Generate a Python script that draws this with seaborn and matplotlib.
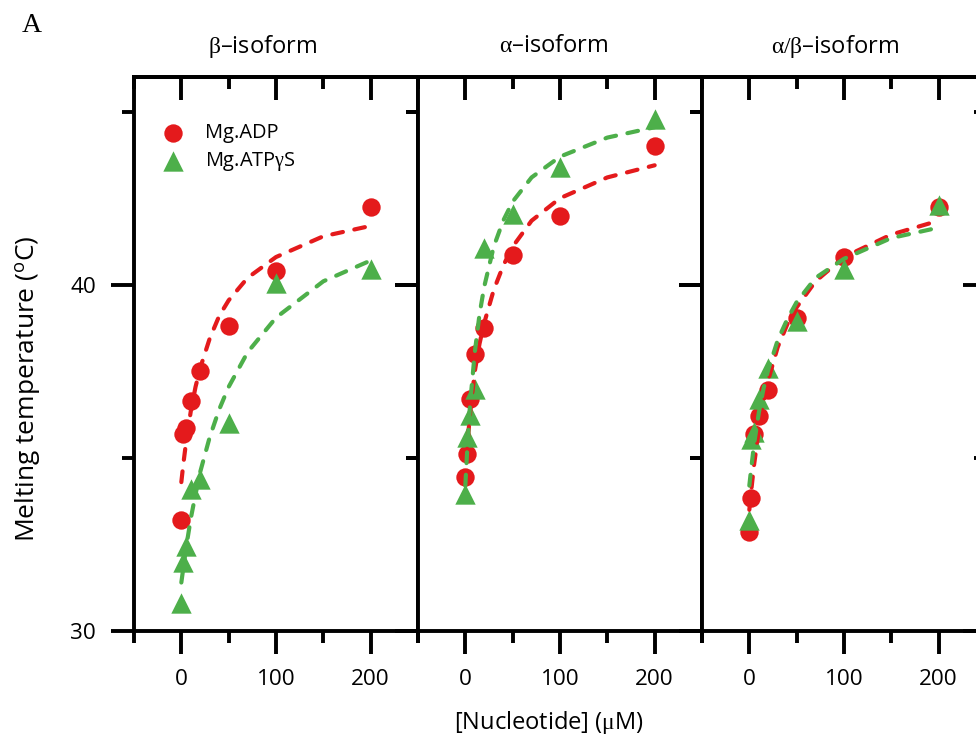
import matplotlib
matplotlib.use("Agg")
import matplotlib.pyplot as plt
from matplotlib.ticker import FixedLocator, NullFormatter
import seaborn as sns
import pandas as pd

# ---------------- data ----------------
panels = ["β", "α", "α/β"]
conc = [0, 2, 5, 10, 20, 50, 100, 200]
beta_adp = [33.2, 35.7, 35.85, 36.65, 37.5, 38.8, 40.4, 42.25]
beta_atp = [30.8, 32.0, 32.45, 34.1, 34.4, 36.0, 40.05, 40.45]
alpha_adp = [34.45, 35.1, 36.7, 38.0, 38.75, 40.85, 42.0, 44.0]
alpha_atp = [33.95, 35.6, 36.25, 37.0, 41.05, 42.05, 43.4, 44.8]
ab_adp = [32.85, 33.85, 35.7, 36.2, 36.95, 39.05, 40.8, 42.25]
ab_atp = [33.2, 35.55, 35.75, 36.7, 37.6, 38.95, 40.45, 42.3]

curve_x = [0, 2, 5, 10, 15, 20, 30, 40, 50, 70, 100, 150, 200]
beta_adp_fit = [34.3, 34.8, 35.45, 36.35, 37.05, 37.6, 38.45, 39.1, 39.55, 40.2, 40.8, 41.4, 41.7]
beta_atp_fit = [31.4, 31.8, 32.4, 33.25, 33.95, 34.6, 35.6, 36.4, 37.05, 38.05, 39.05, 40.1, 40.7]
alpha_adp_fit = [34.3, 35.3, 36.3, 37.5, 38.3, 38.9, 39.85, 40.55, 41.1, 41.85, 42.5, 43.1, 43.45]
alpha_atp_fit = [34.2, 35.25, 36.55, 38.05, 39.15, 39.95, 41.1, 41.85, 42.4, 43.1, 43.7, 44.25, 44.55]
ab_adp_fit = [33.5, 34.05, 34.8, 35.8, 36.6, 37.25, 38.2, 38.85, 39.35, 40.1, 40.8, 41.45, 41.85]
ab_atp_fit = [34.2, 34.7, 35.4, 36.3, 37.0, 37.55, 38.4, 39.0, 39.5, 40.2, 40.75, 41.35, 41.65]

titles = ["$\\mathrm{β}$–isoform", "$\\mathrm{α}$–isoform", "$\\mathrm{α/β}$–isoform"]
series_labels = ["Mg.ADP", "Mg.ATP$\\mathrm{γ}$S"]
x_ticks = [0, 100, 200]
x_minor = [-50, 50, 150, 250]
y_ticks = [30, 40]
y_minor = [35, 45]

# ---------------- style ----------------
sns.set_style("ticks")
plt.rcParams["font.family"] = ["Open Sans", "DejaVu Sans"]
plt.rcParams["mathtext.fontset"] = "custom"
plt.rcParams["mathtext.rm"] = "Liberation Serif"
plt.rcParams["mathtext.it"] = "Liberation Serif:italic"
plt.rcParams["mathtext.sf"] = "Open Sans"
for k in ["text.color", "axes.labelcolor", "xtick.color", "ytick.color",
          "axes.edgecolor"]:
    plt.rcParams[k] = "black"

RED = "#E41A1C"
GREEN = "#4DAF4A"
LW = 2.8
MAJ, MIN = 16.5, 8.5
DASH = dict(linewidth=3.0, linestyle=(0, (2.6, 2.8)), dash_capstyle="round")

fig = plt.figure(figsize=(9.76, 7.47), dpi=100)
W, H = 976.0, 747.0
lefts = [134, 418, 702]

pts = [(beta_adp, beta_atp), (alpha_adp, alpha_atp), (ab_adp, ab_atp)]
fits = [(beta_adp_fit, beta_atp_fit), (alpha_adp_fit, alpha_atp_fit), (ab_adp_fit, ab_atp_fit)]

for i, L in enumerate(lefts):
    ax = fig.add_axes([L / W, (H - 631) / H, 284 / W, 554 / H])
    adp, atp = pts[i]
    fadp, fatp = fits[i]
    d_adp = pd.DataFrame({"conc": conc, "Tm": adp})
    d_atp = pd.DataFrame({"conc": conc, "Tm": atp})
    sns.scatterplot(data=d_adp, x="conc", y="Tm", marker="o", s=175, color=RED,
                    linewidth=0, ax=ax, label=series_labels[0], zorder=3)
    sns.scatterplot(data=d_atp, x="conc", y="Tm", marker="^", s=215, color=GREEN,
                    linewidth=0, ax=ax, label=series_labels[1], zorder=3)
    c_adp = pd.DataFrame({"conc": curve_x, "Tm": fadp})
    c_atp = pd.DataFrame({"conc": curve_x, "Tm": fatp})
    sns.lineplot(data=c_adp, x="conc", y="Tm", color=RED, ax=ax, errorbar=None,
                 zorder=4, **DASH)
    sns.lineplot(data=c_atp, x="conc", y="Tm", color=GREEN, ax=ax, errorbar=None,
                 zorder=4, **DASH)

    ax.set_xlim(-50, 250)
    ax.set_ylim(30, 46)
    ax.set_xlabel("")
    ax.set_ylabel("")
    for sp in ax.spines.values():
        sp.set_visible(True)
        sp.set_linewidth(LW)
        sp.set_color("black")
    ax.xaxis.set_major_locator(FixedLocator(x_ticks))
    ax.xaxis.set_minor_locator(FixedLocator(x_minor))
    ax.yaxis.set_major_locator(FixedLocator(y_ticks))
    ax.yaxis.set_minor_locator(FixedLocator(y_minor))
    ax.tick_params(axis="x", which="both", direction="out", bottom=True, top=False,
                   width=LW, labelsize=16.2, pad=11, colors="black")
    ax.tick_params(axis="x", which="major", length=MAJ)
    ax.tick_params(axis="x", which="minor", length=MIN)
    ax.tick_params(axis="y", which="both", direction="out", left=True, right=False,
                   width=LW, labelsize=16.2, pad=11, colors="black")
    ax.tick_params(axis="y", which="major", length=MAJ)
    ax.tick_params(axis="y", which="minor", length=MIN)
    if i > 0:
        ax.tick_params(axis="y", labelleft=False)

    # mirrored ticks pointing inward on top and right
    sx = ax.secondary_xaxis("top")
    sx.xaxis.set_major_locator(FixedLocator(x_ticks))
    sx.xaxis.set_minor_locator(FixedLocator(x_minor))
    sx.xaxis.set_major_formatter(NullFormatter())
    sx.tick_params(axis="x", which="both", direction="in", width=LW, colors="black")
    sx.tick_params(axis="x", which="major", length=MAJ)
    sx.tick_params(axis="x", which="minor", length=MIN)
    sx.spines["top"].set_linewidth(LW)
    sy = ax.secondary_yaxis("right")
    sy.yaxis.set_major_locator(FixedLocator(y_ticks))
    sy.yaxis.set_minor_locator(FixedLocator(y_minor))
    sy.yaxis.set_major_formatter(NullFormatter())
    sy.tick_params(axis="y", which="both", direction="in", width=LW, colors="black")
    sy.tick_params(axis="y", which="major", length=MAJ)
    sy.tick_params(axis="y", which="minor", length=MIN)
    sy.spines["right"].set_linewidth(LW)

    if i == 0:
        ax.legend(loc="center left", bbox_to_anchor=((163 - 134) / 284, (631 - 148) / 554),
                  frameon=False, fontsize=14.4, borderpad=0, handlelength=1.0,
                  handletextpad=1.1, labelspacing=0.35, borderaxespad=0,
                  labelcolor="black")
    else:
        leg = ax.get_legend()
        if leg is not None:
            leg.remove()

# titles
title_x = [262, 554, 835]
for t, tx in zip(titles, title_x):
    fig.text(tx / W, 1 - 46 / H, t, ha="center", va="center", fontsize=17)

fig.text(32 / W, 1 - 25 / H, "A", ha="center", va="center", fontsize=20,
         family="Liberation Serif")
fig.text(28 / W, 1 - 389 / H, "Melting temperature ($^{\\mathsf{o}}$C)", rotation=90,
         ha="center", va="center", fontsize=19)
fig.text(549 / W, 1 - 722 / H, "[Nucleotide] ($\\mathrm{μ}$M)", ha="center",
         va="center", fontsize=17)

fig.savefig("out.png", dpi=100)
